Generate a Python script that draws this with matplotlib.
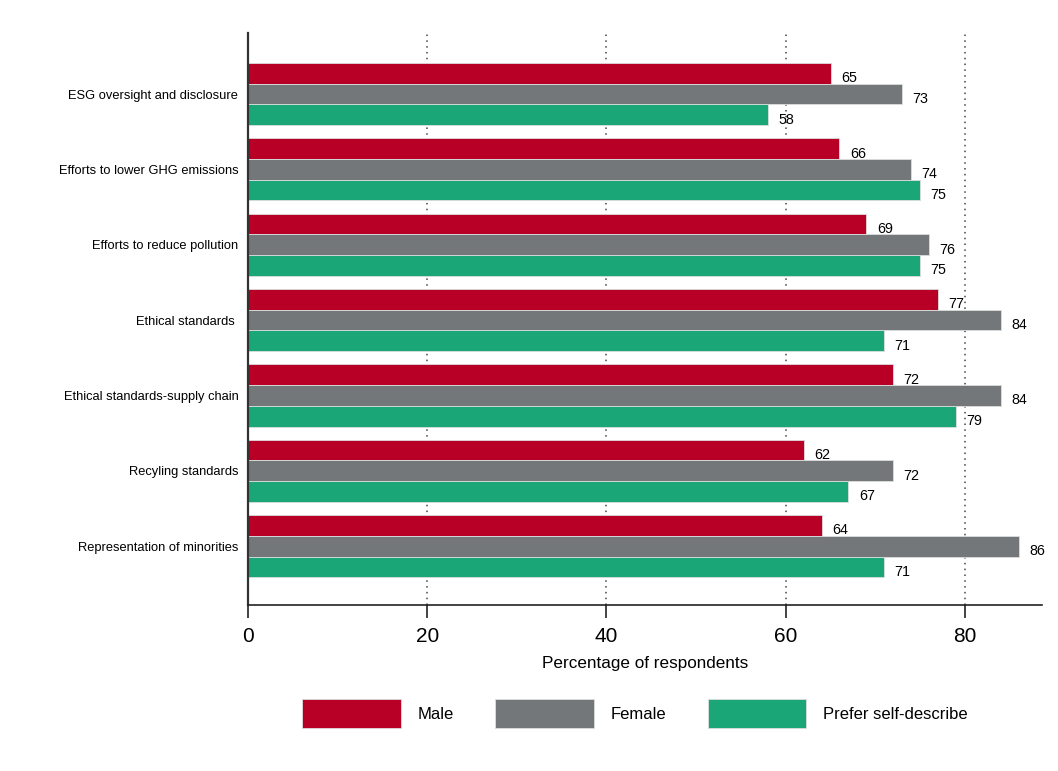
import matplotlib
matplotlib.use("Agg")
import matplotlib.pyplot as plt
import numpy as np

# survey data (percent of respondents)
categories = [
    "ESG oversight and disclosure",
    "Efforts to lower GHG emissions",
    "Efforts to reduce pollution",
    "Ethical standards ",
    "Ethical standards-supply chain",
    "Recyling standards",
    "Representation of minorities",
]
male = [65, 66, 69, 77, 72, 62, 64]
female = [73, 74, 76, 84, 84, 72, 86]
self_describe = [58, 75, 75, 71, 79, 67, 71]

series_names = ["Male", "Female", "Prefer self-describe"]
series_colors = ["#B80027", "#737779", "#1AA676"]

FONT = ["Liberation Sans", "DejaVu Sans"]

fig = plt.figure(figsize=(10.58, 7.71), dpi=100)
ax = fig.add_axes([248 / 1058, 1 - 605 / 771, (1042 - 248) / 1058, (605 - 33) / 771])

y = np.arange(len(categories))
bar_h = 0.275
offsets = [-bar_h, 0, bar_h]

# dotted vertical grid behind the bars
for gx in [20, 40, 60, 80]:
    ax.axvline(gx, color="#444444", linestyle=(0, (1, 2.8)), linewidth=1.1, zorder=0)

for vals, name, col, off in zip([male, female, self_describe], series_names, series_colors, offsets):
    bars = ax.barh(y + off, vals, height=bar_h, color=col, edgecolor="#dddddd",
                   linewidth=0.6, label=name, zorder=2)
    for b, v in zip(bars, vals):
        ax.annotate(f"{v}", xy=(b.get_width(), b.get_y() + b.get_height() / 2),
                    xytext=(7.5, -3.5), textcoords="offset points", ha="left", va="center",
                    fontsize=10.3, family=FONT, color="black", zorder=3)

ax.set_yticks(y)
ax.set_yticklabels(categories, fontsize=9.3, family=FONT)
ax.tick_params(axis="y", length=0, pad=7)
ax.set_ylim(len(categories) - 1 + 0.78, -0.81)

ax.set_xlim(0, 88.6)
ax.set_xticks([0, 20, 40, 60, 80])
ax.set_xticklabels(["0", "20", "40", "60", "80"], fontsize=15, family=FONT)
ax.tick_params(axis="x", length=9, width=1.2, pad=7, color="#222222")
ax.set_xlabel("Percentage of respondents", fontsize=12.3, family=FONT, labelpad=7)

for s in ["top", "right"]:
    ax.spines[s].set_visible(False)
ax.spines["left"].set_linewidth(1.6)
ax.spines["left"].set_color("#333333")
ax.spines["bottom"].set_linewidth(1.2)
ax.spines["bottom"].set_color("#222222")

handles, labels = ax.get_legend_handles_labels()
fig.legend(handles, labels, loc="center", bbox_to_anchor=(0.600, 0.074), ncol=3,
           frameon=False, prop={"family": FONT, "size": 12},
           handlelength=5.9, handleheight=2.3, handletextpad=1.0, columnspacing=2.5)

fig.savefig("out.png", dpi=100, facecolor="white")
